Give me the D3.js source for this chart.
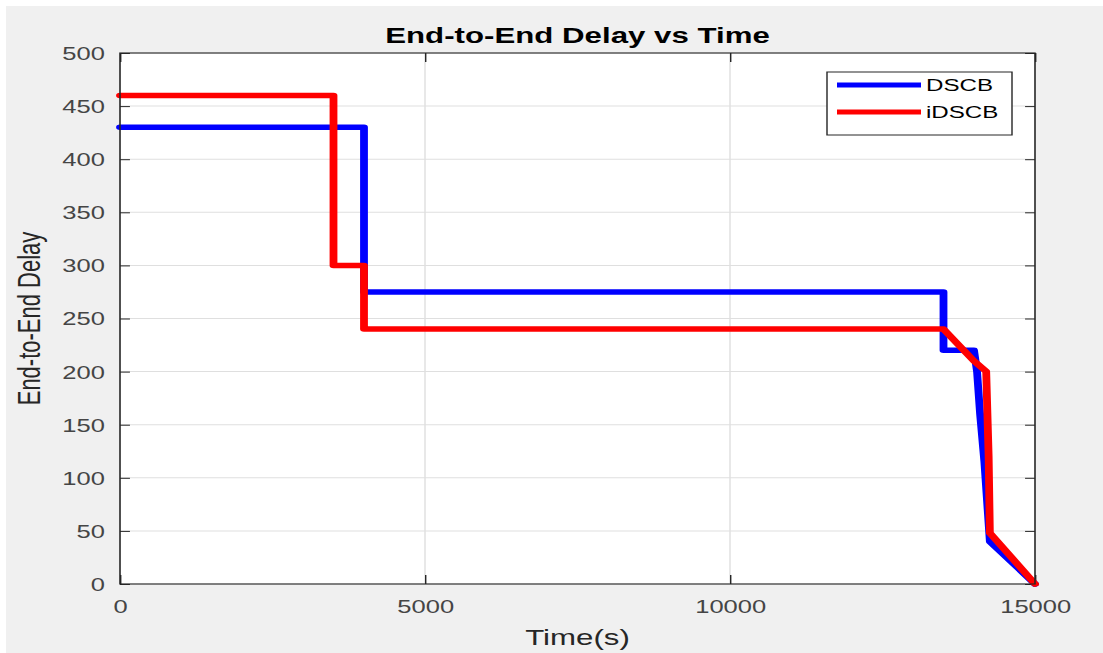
<!DOCTYPE html>
<html>
<head>
<meta charset="utf-8">
<script src="https://cdn.jsdelivr.net/npm/d3@7"></script>
<style>
  html, body { margin: 0; padding: 0; background: #ffffff; }
  svg { display: block; }
  text { font-family: "Liberation Sans", Arial, sans-serif; }
</style>
</head>
<body>
<svg id="chart" width="1103" height="653"></svg>
<script>
// ---- data ----
const chartTitle = "End-to-End Delay vs Time";
const xLabel = "Time(s)";
const yLabel = "End-to-End Delay";
const seriesNames = ["DSCB", "iDSCB"];
const seriesColors = ["#0000ff", "#ff0000"];
const dscbTime  = [0, 4000, 4000, 13500, 13500, 14000, 14050, 14100, 14170, 14260, 15000];
const dscbDelay = [430, 430, 275, 275, 220, 220, 200, 160, 115, 40, 0];
const idscbTime  = [0, 3500, 3500, 4000, 4000, 13500, 14000, 14200, 14240, 14260, 15000];
const idscbDelay = [460, 460, 300, 300, 240, 240, 210, 200, 120, 48, 0];
const xTicks = [0, 5000, 10000, 15000];
const yTicks = [0, 50, 100, 150, 200, 250, 300, 350, 400, 450, 500];

(function () {
// ---- layout (whole picture is horizontally stretched) ----
const SX = 1.42;
const W = 1103, H = 653;
const pLeft = 120 / SX, pRight = 1035 / SX, pTop = 53, pBottom = 584;

const svg = d3.select("#chart");
svg.append("rect").attr("x", 0).attr("y", 0).attr("width", W).attr("height", H).attr("fill", "#ffffff");
svg.append("rect").attr("x", 6).attr("y", 6).attr("width", W - 6).attr("height", H - 6).attr("fill", "#f0f0f0");

const g = svg.append("g").attr("transform", `scale(${SX},1)`);

const x = d3.scaleLinear().domain([0, 15000]).range([pLeft, pRight]);
const y = d3.scaleLinear().domain([0, 500]).range([pBottom, pTop]);

// plot background
g.append("rect").attr("x", pLeft).attr("y", pTop).attr("width", pRight - pLeft).attr("height", pBottom - pTop).attr("fill", "#ffffff");

// grid
const grid = g.append("g");
grid.selectAll("line.gx").data(xTicks).enter().append("line")
  .attr("x1", d => x(d)).attr("x2", d => x(d)).attr("y1", pTop).attr("y2", pBottom)
  .attr("stroke", "#dfdfdf").attr("stroke-width", 1);
grid.selectAll("line.gy").data(yTicks).enter().append("line")
  .attr("x1", pLeft).attr("x2", pRight).attr("y1", d => y(d)).attr("y2", d => y(d))
  .attr("stroke", "#dfdfdf").attr("stroke-width", 1);

// axes via d3 (ticks inward)
const axisColor = "#262626";
const tickLenX = 9, tickLenY = 7;
const xAxis = d3.axisBottom(x).tickValues(xTicks).tickSize(-tickLenX).tickPadding(0).tickFormat(d3.format("d"));
const yAxis = d3.axisLeft(y).tickValues(yTicks).tickSize(-tickLenY).tickPadding(0).tickFormat(d3.format("d"));

const gx = g.append("g").attr("transform", `translate(0,${pBottom})`).call(xAxis);
gx.select(".domain").remove();
gx.selectAll(".tick line").attr("stroke", axisColor);
gx.selectAll(".tick text").attr("fill", "#454545").attr("font-size", 18)
  .attr("font-family", "Liberation Sans, Arial, sans-serif").attr("y", 29).attr("dy", 0);

const gy = g.append("g").attr("transform", `translate(${pLeft},0)`).call(yAxis);
gy.select(".domain").remove();
gy.selectAll(".tick line").attr("stroke", axisColor);
gy.selectAll(".tick text").attr("fill", "#454545").attr("font-size", 18)
  .attr("font-family", "Liberation Sans, Arial, sans-serif").attr("x", -(120 - 105) / SX).attr("dy", "0.36em");

// top & right ticks
const gxTop = g.append("g").attr("transform", `translate(0,${pTop})`).call(d3.axisTop(x).tickValues(xTicks).tickSize(-tickLenX).tickFormat(""));
gxTop.select(".domain").remove();
gxTop.selectAll(".tick line").attr("stroke", axisColor);
const gyR = g.append("g").attr("transform", `translate(${pRight},0)`).call(d3.axisRight(y).tickValues(yTicks).tickSize(-tickLenY).tickFormat(""));
gyR.select(".domain").remove();
gyR.selectAll(".tick line").attr("stroke", axisColor);

// lines
const line = d3.line().x(d => x(d[0])).y(d => y(d[1]));
const series = [
  { name: seriesNames[0], color: seriesColors[0], pts: d3.zip(dscbTime, dscbDelay) },
  { name: seriesNames[1], color: seriesColors[1], pts: d3.zip(idscbTime, idscbDelay) }
];
g.append("g").selectAll("path.series").data(series).enter().append("path")
  .attr("d", d => line(d.pts))
  .attr("fill", "none")
  .attr("stroke", d => d.color)
  .attr("stroke-width", 5.5)
  .attr("stroke-linejoin", "round")
  .attr("stroke-linecap", "round");

// box
g.append("rect").attr("x", pLeft).attr("y", pTop).attr("width", pRight - pLeft).attr("height", pBottom - pTop)
  .attr("fill", "none").attr("stroke", axisColor).attr("stroke-width", 1.1);

// title
g.append("text").attr("x", (pLeft + pRight) / 2).attr("y", 43).attr("text-anchor", "middle")
  .attr("font-size", 22).attr("font-weight", "bold").attr("fill", "#000000").text(chartTitle);

// x label
g.append("text").attr("x", (pLeft + pRight) / 2).attr("y", 645).attr("text-anchor", "middle")
  .attr("font-size", 22).attr("fill", "#262626").text(xLabel);

// y label
g.append("text").attr("transform", `translate(${40 / SX},${(pTop + pBottom) / 2}) rotate(-90)`)
  .attr("text-anchor", "middle").attr("font-size", 22).attr("fill", "#262626").text(yLabel);

// legend
const lgX0 = 827 / SX, lgX1 = 1012 / SX;
const legend = g.append("g");
legend.append("rect").attr("x", lgX0).attr("y", 72).attr("width", lgX1 - lgX0).attr("height", 63)
  .attr("fill", "#ffffff").attr("stroke", axisColor).attr("stroke-width", 1);
const lgRows = legend.selectAll("g.row").data(series).enter().append("g")
  .attr("transform", (d, i) => `translate(0,${85 + i * 27})`);
lgRows.append("line").attr("x1", 837 / SX).attr("x2", 921 / SX).attr("y1", 0).attr("y2", 0)
  .attr("stroke", d => d.color).attr("stroke-width", 5);
lgRows.append("text").attr("x", 926 / SX).attr("y", 0).attr("dy", "0.36em")
  .attr("font-size", 17).attr("fill", "#000000").text(d => d.name);
})();
</script>
</body>
</html>
